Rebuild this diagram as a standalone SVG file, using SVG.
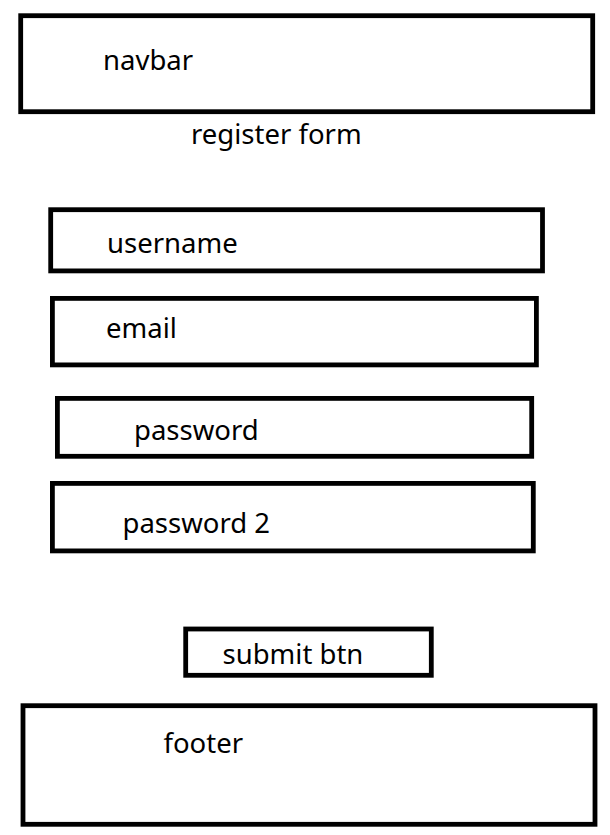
<svg xmlns="http://www.w3.org/2000/svg" width="610" height="835" viewBox="0 0 610 835">
<style>
.box{fill:none;stroke:#000;stroke-width:4.8}
.lbl{font-family:"Noto Sans","Open Sans",sans-serif;font-size:27.5px;fill:#000}
</style>
<rect width="610" height="835" fill="#fff"/>
<g id="navbar"><rect class="box" x="20.7" y="15.7" width="572" height="96"/><text class="lbl" x="103" y="70">navbar</text></g>
<g id="register-form"><text class="lbl" x="191" y="143.5">register form</text></g>
<g id="username"><rect class="box" x="50.7" y="209.7" width="491.8" height="61.2"/><text class="lbl" x="107" y="252.5">username</text></g>
<g id="email"><rect class="box" x="52.4" y="298.4" width="484" height="66.5"/><text class="lbl" x="106" y="338">email</text></g>
<g id="password"><rect class="box" x="57.4" y="398.4" width="474.3" height="57.9"/><text class="lbl" x="134" y="440">password</text></g>
<g id="password2"><rect class="box" x="52.4" y="483.4" width="480.9" height="67.5"/><text class="lbl" x="122.5" y="533">password 2</text></g>
<g id="submit-btn"><rect class="box" x="185.7" y="629" width="245.6" height="46.3"/><text class="lbl" x="222.5" y="664">submit btn</text></g>
<g id="footer"><rect class="box" x="23" y="705.7" width="572" height="118.6"/><text class="lbl" x="163.5" y="753.3">footer</text></g>
<g id="connectors"></g>
</svg>
